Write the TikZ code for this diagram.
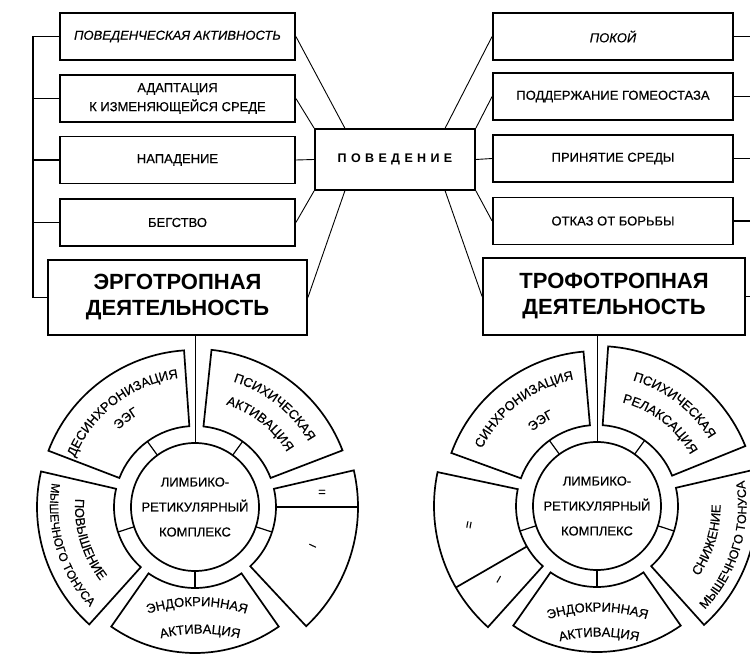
\documentclass[tikz,border=0pt]{standalone}
\usepackage{fontspec}
\setmainfont{Liberation Sans}[UprightFeatures={FakeBold=0.35},ItalicFeatures={FakeBold=0.35}]
\usetikzlibrary{calc,decorations.text}
\tikzset{
  box/.style={draw, line width=1.8pt, minimum height=47pt, inner sep=0pt, align=center, font=\fontsize{13}{19}\selectfont},
  bigbox/.style={draw, line width=1.8pt, inner sep=0pt, align=center, font=\fontsize{22}{26}\selectfont\bfseries},
  link/.style={line width=0.9pt},
  brk/.style={line width=1.1pt},
  wheel/.style={line width=1.7pt},
  wtick/.style={line width=1.2pt},
  core/.style={circle, draw, line width=1.7pt, minimum size=128pt, inner sep=0pt, align=center, font=\fontsize{13}{25}\selectfont},
  sign/.style={font=\fontsize{13}{15}\selectfont, inner sep=0pt}
}
\newcommand\wseg[4]{%
  \draw[wheel] ($(#1)+(#2:81pt)$) arc[start angle=#2, end angle=#3, radius=81pt]
    -- ($(#1)+(#3:#4pt)$) arc[start angle=#3, end angle=#2, radius=#4pt] -- cycle;}
\newcommand\ctext[6][13]{%
  \path[decorate, decoration={text along path, text align=center, text={|\fontsize{#1}{15}\selectfont|#6}}]
    ($(#2)+(#3:#5pt)$) arc[start angle=#3, end angle=#4, radius=#5pt];}
\begin{document}
\begin{tikzpicture}[x=1pt,y=1pt]
\useasboundingbox[fill=white] (0,0) rectangle (750,657);

% ---- top boxes
\node[box, minimum width=235pt] (b1) at (177.5,620.5) {\itshape ПОВЕДЕНЧЕСКАЯ АКТИВНОСТЬ};
\node[box, minimum width=235pt] (b2) at (177.5,558.5) {АДАПТАЦИЯ\\К ИЗМЕНЯЮЩЕЙСЯ СРЕДЕ};
\node[box, minimum width=235pt] (b3) at (177.5,497) {НАПАДЕНИЕ};
\node[box, minimum width=235pt] (b4) at (177.5,434.5) {БЕГСТВО};
\node[bigbox, minimum width=259pt, minimum height=75pt] (ergo) at (177.5,359.5) {ЭРГОТРОПНАЯ\\ДЕЯТЕЛЬНОСТЬ};

\node[box, minimum width=160pt, minimum height=61pt] (c) at (395,497.5)
  {\fontsize{12.5}{15}\selectfont\bfseries\addfontfeature{LetterSpace=35}ПОВЕДЕНИЕ};

\node[box, minimum width=240pt] (r1) at (613,620.5) {\itshape ПОКОЙ};
\node[box, minimum width=240pt] (r2) at (613,560.5) {ПОДДЕРЖАНИЕ ГОМЕОСТАЗА};
\node[box, minimum width=240pt] (r3) at (613,498.5) {ПРИНЯТИЕ СРЕДЫ};
\node[box, minimum width=240pt] (r4) at (613,436) {ОТКАЗ ОТ БОРЬБЫ};
\node[bigbox, minimum width=262pt, minimum height=77pt] (tropho) at (614,360.5) {ТРОФОТРОПНАЯ\\ДЕЯТЕЛЬНОСТЬ};

% ---- connectors to ПОВЕДЕНИЕ
\coordinate (ctl) at ($(c.north west)!0.19!(c.north east)$);
\coordinate (ctr) at ($(c.north west)!0.81!(c.north east)$);
\coordinate (cbl) at ($(c.south west)!0.19!(c.south east)$);
\coordinate (cbr) at ($(c.south west)!0.81!(c.south east)$);
\draw[link] (b1.east) -- (ctl);
\draw[link] (b2.east) -- (c.north west);
\draw[link] (b3.east) -- (c.west);
\draw[link] (b4.east) -- (c.south west);
\draw[link] (ergo.east) -- (cbl);
\draw[link] (r1.west) -- (ctr);
\draw[link] (r2.west) -- (c.north east);
\draw[link] (r3.west) -- (c.east);
\draw[link] (r4.west) -- (c.south east);
\draw[link] (tropho.west) -- (cbr);

% ---- brackets
\coordinate (lb) at (33,620.5);
\draw[brk] (b1.west) -- (b1.west -| lb) -- (ergo.west -| lb) -- (ergo.west);
\foreach \n in {b2,b3,b4} \draw[brk] (\n.west) -- (\n.west -| lb);
\coordinate (rb) at (756,620.5);
\draw[brk] (r1.east) -- (r1.east -| rb) -- (tropho.east -| rb) -- (tropho.east);
\foreach \n in {r2,r3,r4} \draw[brk] (\n.east) -- (\n.east -| rb);

% ---- left wheel
\coordinate (L) at (195,150);
\node[core] (limL) at (L) {ЛИМБИКО-\\РЕТИКУЛЯРНЫЙ\\КОМПЛЕКС};
\draw[link] (ergo.south -| limL.north) -- (limL.north);
\wseg{L}{94}{159}{157}
\wseg{L}{21}{84}{158}
\wseg{L}{-47}{13}{163}
\wseg{L}{235}{305}{146}
\wseg{L}{167}{228}{158}
\draw[wheel] ($(L)+(0:81pt)$) -- ($(L)+(0:163pt)$);
\foreach \a in {270,342,54,126,198} \draw[wtick] ($(L)+(\a:64pt)$) -- ($(L)+(\a:81pt)$);
\ctext{L}{165}{90}{130}{ДЕСИНХРОНИЗАЦИЯ}
\ctext{L}{150}{106}{108.5}{ЭЭГ}
\ctext{L}{90}{13}{131}{ПСИХИЧЕСКАЯ}
\ctext{L}{90}{14}{107}{АКТИВАЦИЯ}
\ctext{L}{163}{231}{120}{ПОВЫШЕНИЕ}
\ctext[12]{L}{159}{235}{145}{МЫШЕЧНОГО ТОНУСА}
\coordinate (eL1) at (197,-109);
\coordinate (eL2) at (200,-136.5);
\ctext{eL1}{115}{65}{160}{ЭНДОКРИННАЯ}
\ctext{eL2}{115}{65}{160}{АКТИВАЦИЯ}
\node[sign] (eqL) at (322,164) {=};
\node[sign, rotate=-25] (miL) at (312,110) {–};

% ---- right wheel
\coordinate (R) at (597,151);
\node[core] (limR) at (R) {ЛИМБИКО-\\РЕТИКУЛЯРНЫЙ\\КОМПЛЕКС};
\draw[link] (tropho.south -| limR.north) -- (limR.north);
\wseg{R}{95}{160}{155}
\wseg{R}{22}{86}{160}
\wseg{R}{-48}{13}{160}
\wseg{R}{235}{305}{146}
\wseg{R}{168}{228}{163}
\draw[wheel] ($(R)+(210:81pt)$) -- ($(R)+(210:163pt)$);
\foreach \a in {270,342,54,126,198} \draw[wtick] ($(R)+(\a:64pt)$) -- ($(R)+(\a:81pt)$);
\ctext{R}{165}{89}{128.5}{СИНХРОНИЗАЦИЯ}
\ctext{R}{145}{102}{98.5}{ЭЭГ}
\ctext{R}{91}{14}{130.5}{ПСИХИЧЕСКАЯ}
\ctext{R}{91}{14}{106.5}{РЕЛАКСАЦИЯ}
\ctext{R}{-52}{18}{123.5}{СНИЖЕНИЕ}
\ctext[12.5]{R}{-60}{26}{149.5}{МЫШЕЧНОГО ТОНУСА}
\coordinate (eR1) at (597.5,-114.5);
\coordinate (eR2) at (599,-139.5);
\ctext{eR1}{115}{65}{160}{ЭНДОКРИННАЯ}
\ctext{eR2}{115}{65}{160}{АКТИВАЦИЯ}
\node[sign, rotate=80] (eqR) at (470,132) {=};
\node[sign, rotate=60] (miR) at (500,77) {–};
\end{tikzpicture}
\end{document}
